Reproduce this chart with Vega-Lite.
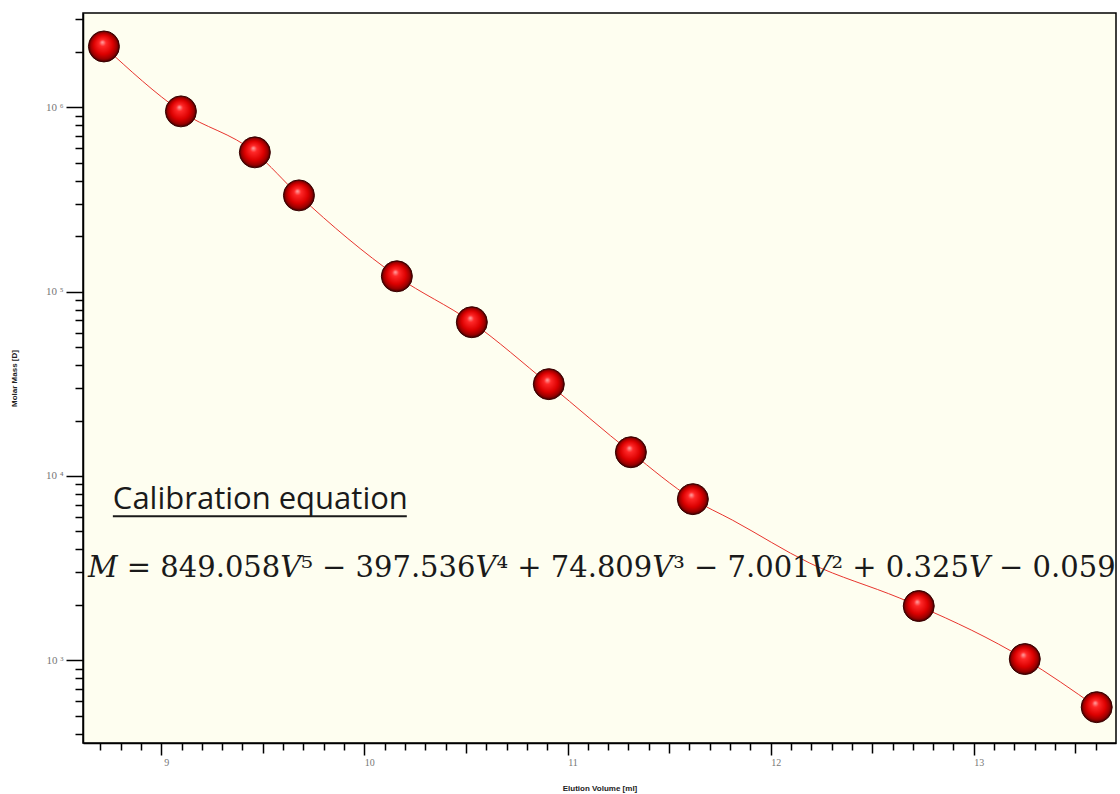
{
  "$schema": "https://vega.github.io/schema/vega-lite/v6.json",
  "width": 1033,
  "height": 730,
  "autosize": {"type": "none"},
  "padding": {"left": 83, "top": 13, "right": 4, "bottom": 51},
  "background": "white",
  "config": {
    "view": {"fill": "#fefef0", "stroke": "#000000", "strokeWidth": 1.5}
  },
  "datasets": {
    "pts": [
      {"volume": 8.718, "mass": 2140000},
      {"volume": 9.097, "mass": 951000},
      {"volume": 9.461, "mass": 570000},
      {"volume": 9.678, "mass": 333000},
      {"volume": 10.16, "mass": 121200},
      {"volume": 10.529, "mass": 68300},
      {"volume": 10.908, "mass": 31500},
      {"volume": 11.312, "mass": 13460},
      {"volume": 11.617, "mass": 7490},
      {"volume": 12.729, "mass": 1970},
      {"volume": 13.251, "mass": 1016},
      {"volume": 13.605, "mass": 557}
    ],
    "fit": [
      {"volume": 8.718, "mass": 2140000},
      {"volume": 9.097, "mass": 951000},
      {"volume": 9.461, "mass": 570000},
      {"volume": 9.678, "mass": 333000},
      {"volume": 10.16, "mass": 121200},
      {"volume": 10.529, "mass": 68300},
      {"volume": 10.908, "mass": 31500},
      {"volume": 11.312, "mass": 13460},
      {"volume": 11.617, "mass": 7490},
      {"volume": 11.813, "mass": 5755},
      {"volume": 12.193, "mass": 3366},
      {"volume": 12.636, "mass": 2175},
      {"volume": 12.729, "mass": 1970},
      {"volume": 13.251, "mass": 1016},
      {"volume": 13.605, "mass": 557}
    ]
  },
  "layer": [
    {
      "data": {"name": "fit"},
      "mark": {"type": "line", "color": "#e8352e", "strokeWidth": 1, "interpolate": "monotone"},
      "encoding": {
        "x": {
          "field": "volume", "type": "quantitative",
          "scale": {"domain": [8.615, 13.7], "nice": false, "zero": false},
          "axis": {
            "title": "Elution Volume [ml]",
            "titleFont": "Liberation Sans", "titleFontSize": 8, "titleFontWeight": "bold", "titleColor": "#222222",
            "titlePadding": 17,
            "tickCount": 200,
            "values": [8.7,8.8,8.9,9,9.1,9.2,9.3,9.4,9.5,9.6,9.7,9.8,9.9,10,10.1,10.2,10.3,10.4,10.5,10.6,10.7,10.8,10.9,11,11.1,11.2,11.3,11.4,11.5,11.6,11.7,11.8,11.9,12,12.1,12.2,12.3,12.4,12.5,12.6,12.7,12.8,12.9,13,13.1,13.2,13.3,13.4,13.5,13.6],
            "labelExpr": "abs(datum.value - round(datum.value)) < 0.001 ? format(datum.value, 'd') : ''",
            "labelOverlap": false, "labelFlush": false, "labelBound": false,
            "labelFont": "Liberation Serif", "labelFontSize": 10, "labelColor": "#777777",
            "labelPadding": 2, "labelOffset": 5,
            "domainColor": "#000000", "domainWidth": 1.5,
            "tickColor": "#000000", "tickWidth": 1.5,
            "tickSize": {"condition": [
              {"test": "abs(datum.value - round(datum.value)) < 0.001", "value": 12},
              {"test": "abs(datum.value - floor(datum.value) - 0.5) < 0.001", "value": 10}
            ], "value": 7},
            "grid": false
          }
        },
        "y": {
          "field": "mass", "type": "quantitative",
          "scale": {"type": "log", "domain": [356, 3250000], "nice": false},
          "axis": {
            "title": "Molar Mass [D]",
            "titleFont": "Liberation Sans", "titleFontSize": 8, "titleFontWeight": "bold", "titleColor": "#222222",
            "titlePadding": 27,
            "tickCount": 200,
            "values": [400,500,600,700,800,900,1000,2000,3000,4000,5000,6000,7000,8000,9000,10000,20000,30000,40000,50000,60000,70000,80000,90000,100000,200000,300000,400000,500000,600000,700000,800000,900000,1000000,2000000,3000000],
            "labelExpr": "datum.value == 1000 ? '10 ³' : datum.value == 10000 ? '10 ⁴' : datum.value == 100000 ? '10 ⁵' : datum.value == 1000000 ? '10 ⁶' : ''",
            "labelOverlap": false, "labelFlush": false, "labelBound": false,
            "labelFont": "Liberation Serif", "labelFontSize": 11, "labelColor": "#777777",
            "labelPadding": 3,
            "domainColor": "#000000", "domainWidth": 1.5,
            "tickColor": "#000000", "tickWidth": 1.5,
            "tickSize": {"condition": {"test": "datum.value == 1000 || datum.value == 10000 || datum.value == 100000 || datum.value == 1000000", "value": 17}, "value": 8},
            "grid": false
          }
        }
      }
    },
    {
      "data": {"name": "pts"},
      "mark": {
        "type": "point", "filled": true, "size": 960, "opacity": 1,
        "fill": {"gradient": "radial", "x1": 0.45, "y1": 0.36, "r1": 0, "x2": 0.5, "y2": 0.5, "r2": 0.5,
          "stops": [
            {"offset": 0, "color": "#ffa8a8"},
            {"offset": 0.22, "color": "#ff2828"},
            {"offset": 0.62, "color": "#dc0000"},
            {"offset": 0.86, "color": "#980000"},
            {"offset": 1, "color": "#3c0000"}
          ]},
        "stroke": "#3a0000", "strokeWidth": 1
      },
      "encoding": {
        "x": {"field": "volume", "type": "quantitative"},
        "y": {"field": "mass", "type": "quantitative"}
      }
    },
    {
      "data": {"values": [{}]},
      "mark": {"type": "text", "text": "Calibration equation", "font": "Open Sans", "fontSize": 31, "color": "#1a1a1a", "align": "left", "baseline": "alphabetic"},
      "encoding": {
        "x": {"datum": 8.762, "type": "quantitative"},
        "y": {"datum": 6607, "type": "quantitative"}
      }
    },
    {
      "data": {"values": [{}]},
      "mark": {"type": "rule", "color": "#1a1a1a", "strokeWidth": 2},
      "encoding": {
        "x": {"datum": 8.762, "type": "quantitative"},
        "x2": {"datum": 10.209},
        "y": {"datum": 6050, "type": "quantitative"}
      }
    },
    {
      "data": {"values": [{}]},
      "mark": {"type": "text", "text": "𝑀 = 849.058𝑉⁵ −  397.536𝑉⁴ + 74.809𝑉³ − 7.001𝑉² + 0.325𝑉 − 0.059", "font": "DejaVu Serif", "fontSize": 29, "color": "#1a1a1a", "align": "left", "baseline": "alphabetic"},
      "encoding": {
        "x": {"datum": 8.639, "type": "quantitative"},
        "y": {"datum": 2830, "type": "quantitative"}
      }
    }
  ]
}
